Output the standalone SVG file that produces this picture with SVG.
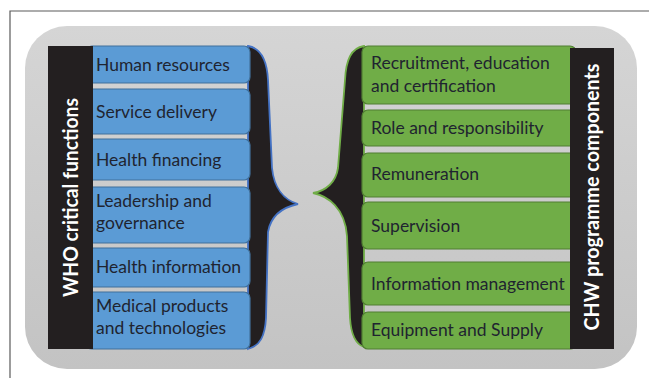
<svg xmlns="http://www.w3.org/2000/svg" width="649" height="378" viewBox="0 0 649 378">
  <defs>
    <linearGradient id="panelFill" x1="0" y1="0" x2="0" y2="1">
      <stop offset="0" stop-color="#d5d5d5"/>
      <stop offset="1" stop-color="#c3c3c3"/>
    </linearGradient>
    <style>
      .frame { fill: none; stroke: #5a5a5a; stroke-width: 1.2; }
      .bar { fill: #231f20; }
      .blue { fill: #5b9bd5; stroke: #41719c; stroke-width: 1.2; }
      .green { fill: #70ad47; stroke: #507e32; stroke-width: 1.2; }
      .brace-blue { fill: #231f20; stroke: #4472c4; stroke-width: 1.8; }
      .brace-green { fill: #231f20; stroke: #70ad47; stroke-width: 1.8; }
      .label { font-family: Lato, "Open Sans", sans-serif; font-size: 17.5px; fill: #1f2430; }
      .title { font-family: Lato, "Open Sans", sans-serif; font-size: 21.5px; font-weight: bold; fill: #ffffff; }
    </style>
  </defs>

  <!-- outer frame: top and left rules -->
  <path class="frame" d="M10,378 L10,11 L649,11"/>

  <!-- rounded grey panel -->
  <rect x="25" y="26" width="612" height="343" rx="42" ry="42" fill="url(#panelFill)"/>

  <!-- braces joining the two columns -->
  <g id="connectors">
    <path class="brace-blue" d="M248,46 C261,48 267,60 268,80 L272,168 C274,188 284,200 298,204 C284,207 271,214 268,232 L266,318 C265,336 260,346 248,349 Z"/>
    <path class="brace-green" d="M364,46 C351,48 346,60 345,80 L338,168 C336,182 326,191 313,193 C328,196 345,208 347,236 L350,318 C351,334 355,344 364,347 Z"/>
  </g>

  <!-- WHO critical functions -->
  <g id="who-human-resources">
    <rect class="blue" x="86" y="46" width="164" height="37" rx="6"/>
    <text class="label" x="96" y="71">Human resources</text>
  </g>
  <g id="who-service-delivery">
    <rect class="blue" x="86" y="89" width="164" height="45" rx="6"/>
    <text class="label" x="96" y="118">Service delivery</text>
  </g>
  <g id="who-health-financing">
    <rect class="blue" x="86" y="139" width="164" height="41" rx="6"/>
    <text class="label" x="96" y="166">Health financing</text>
  </g>
  <g id="who-leadership">
    <rect class="blue" x="86" y="187" width="164" height="56" rx="6"/>
    <text class="label" x="96" y="207">Leadership and</text>
    <text class="label" x="96" y="229">governance</text>
  </g>
  <g id="who-health-information">
    <rect class="blue" x="86" y="248" width="164" height="39" rx="6"/>
    <text class="label" x="96" y="273">Health information</text>
  </g>
  <g id="who-medical-products">
    <rect class="blue" x="86" y="292" width="164" height="57" rx="6"/>
    <text class="label" x="96" y="312">Medical products</text>
    <text class="label" x="96" y="334">and technologies</text>
  </g>

  <!-- CHW programme components -->
  <g id="chw-recruitment">
    <rect class="green" x="362" y="46" width="214" height="58" rx="6"/>
    <text class="label" x="371" y="69">Recruitment, education</text>
    <text class="label" x="371" y="92">and certification</text>
  </g>
  <g id="chw-role">
    <rect class="green" x="362" y="110" width="214" height="36" rx="6"/>
    <text class="label" x="371" y="134">Role and responsibility</text>
  </g>
  <g id="chw-remuneration">
    <rect class="green" x="362" y="153" width="214" height="44" rx="6"/>
    <text class="label" x="371" y="180">Remuneration</text>
  </g>
  <g id="chw-supervision">
    <rect class="green" x="362" y="202" width="214" height="47" rx="6"/>
    <text class="label" x="371" y="232">Supervision</text>
  </g>
  <g id="chw-information">
    <rect class="green" x="362" y="262" width="214" height="43" rx="6"/>
    <text class="label" x="371" y="290">Information management</text>
  </g>
  <g id="chw-equipment">
    <rect class="green" x="362" y="312" width="214" height="37" rx="6"/>
    <text class="label" x="371" y="336">Equipment and Supply</text>
  </g>

  <!-- column title bars -->
  <g id="who-title">
    <rect class="bar" x="48" y="46" width="45" height="303"/>
    <text class="title" transform="translate(77.5,197.5) rotate(-90)" text-anchor="middle" textLength="199" lengthAdjust="spacingAndGlyphs">WHO critical functions</text>
  </g>
  <g id="chw-title">
    <rect class="bar" x="570" y="48" width="44" height="301"/>
    <text class="title" transform="translate(598.5,197) rotate(-90)" text-anchor="middle" textLength="267" lengthAdjust="spacingAndGlyphs">CHW programme components</text>
  </g>
</svg>
